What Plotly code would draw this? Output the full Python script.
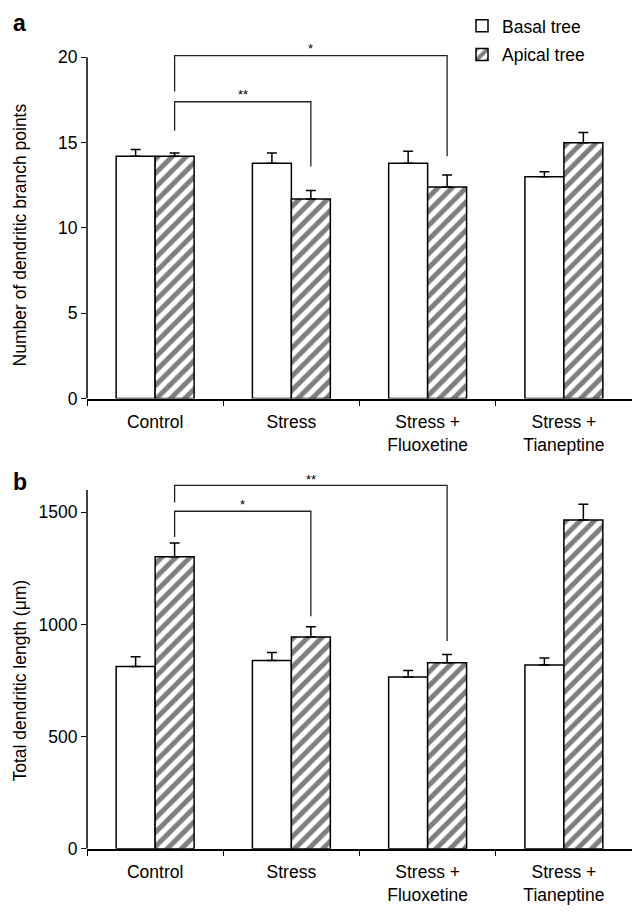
import plotly.graph_objects as go

# ---------------- data ----------------
categories = ["Control", "Stress", "Stress +<br>Fluoxetine", "Stress +<br>Tianeptine"]

branch_basal = [14.2, 13.8, 13.8, 13.0]
branch_basal_err = [0.4, 0.6, 0.7, 0.3]
branch_apical = [14.2, 11.7, 12.4, 15.0]
branch_apical_err = [0.2, 0.5, 0.7, 0.6]

length_basal = [812, 839, 766, 819]
length_basal_err = [44, 36, 29, 31]
length_apical = [1302, 944, 829, 1466]
length_apical_err = [61, 46, 37, 70]

# significance brackets: (from idx, to idx, bracket level, left drop, right drop, label)
sig_a = [(0, 1, 17.4, 15.7, 13.6, "**"), (0, 2, 20.1, 18.0, 14.2, "*")]
sig_b = [(0, 1, 1505, 1390, 1037, "*"), (0, 2, 1620, 1544, 926, "**")]

# ---------------- layout geometry ----------------
W, H = 632, 918
ML = 87
PW = W - ML
FONT = "Liberation Sans, Arial, sans-serif"
FS = 17.5
BAR_W = 0.286
xs = list(range(len(categories)))


def py(p):
    return 1 - p / H


def px(p):
    return (p - ML) / PW


# panel a: value 0 at y=403px, 20 at y=58px ; panel b: 0 at 858px, 1500 at 518px
a_top_val = 20.8
a_scale = (403 - 58) / 20.0
a_dom = [py(403), py(403 - a_top_val * a_scale)]
b_top_val = 1660
b_scale = (858 - 518) / 1500.0
b_dom = [py(858), py(858 - b_top_val * b_scale)]

fig = go.Figure()

pattern = dict(shape="/", size=10, solidity=0.5, fgcolor="black", bgcolor="white", fillmode="overlay")


def add_panel(basal, basal_err, apical, apical_err, xa, ya, show):
    fig.add_trace(go.Bar(
        x=xs, y=basal, name="Basal tree", xaxis=xa, yaxis=ya,
        width=BAR_W, offset=-BAR_W, showlegend=show, legendgroup="b",
        marker=dict(color="white", line=dict(color="black", width=1.5)),
        error_y=dict(type="data", array=basal_err, arrayminus=[0] * len(basal),
                     symmetric=False, color="black", thickness=1.5, width=5),
    ))
    fig.add_trace(go.Bar(
        x=xs, y=apical, name="Apical tree", xaxis=xa, yaxis=ya,
        width=BAR_W, offset=0, showlegend=show, legendgroup="a",
        marker=dict(color="white", line=dict(color="black", width=1.5), pattern=pattern),
        error_y=dict(type="data", array=apical_err, arrayminus=[0] * len(apical),
                     symmetric=False, color="black", thickness=1.5, width=5),
    ))


add_panel(branch_basal, branch_basal_err, branch_apical, branch_apical_err, "x", "y", True)
add_panel(length_basal, length_basal_err, length_apical, length_apical_err, "x2", "y2", False)

shapes = []
annotations = []


def brackets(sigs, xa, ya, text_off):
    for i, j, lvl, ld, rd, lab in sigs:
        x0 = i + BAR_W / 2
        x1 = j + BAR_W / 2
        shapes.append(dict(type="path", xref=xa, yref=ya,
                           path=f"M {x0},{ld} L {x0},{lvl} L {x1},{lvl} L {x1},{rd}",
                           line=dict(color="#222", width=1.3)))
        annotations.append(dict(x=(x0 + x1) / 2, y=lvl + text_off, xref=xa, yref=ya,
                                text=lab, showarrow=False, xanchor="center", yanchor="middle",
                                font=dict(family=FONT, size=13, color="black")))


brackets(sig_a, "x", "y", 0.4)
brackets(sig_b, "x2", "y2", 28)

# manual y-axis lines (stop at top tick)
shapes.append(dict(type="line", xref="x domain", yref="y", x0=0, x1=0, y0=0, y1=20,
                   line=dict(color="black", width=1.5)))
shapes.append(dict(type="line", xref="x2 domain", yref="y2", x0=0, x1=0, y0=0, y1=1600,
                   line=dict(color="black", width=1.5)))

# panel letters and axis titles
annotations += [
    dict(x=px(11), y=py(23), xref="paper", yref="paper", text="<b>a</b>", showarrow=False,
         xanchor="left", yanchor="middle", font=dict(family=FONT, size=23, color="black")),
    dict(x=px(11), y=py(487), xref="paper", yref="paper", text="<b>b</b>", showarrow=False,
         xanchor="left", yanchor="middle", font=dict(family=FONT, size=23, color="black")),
    dict(x=px(20), y=py(238), xref="paper", yref="paper", text="Number of dendritic branch points",
         textangle=-90, showarrow=False, xanchor="center", yanchor="middle",
         font=dict(family=FONT, size=FS, color="black")),
    dict(x=px(20), y=py(688), xref="paper", yref="paper", text="Total dendritic length (μm)",
         textangle=-90, showarrow=False, xanchor="center", yanchor="middle",
         font=dict(family=FONT, size=FS, color="black")),
]

xaxis_common = dict(
    range=[-0.5, 3.5], tickvals=xs, ticktext=categories, ticks="",
    showline=True, linecolor="black", linewidth=1.5, showgrid=False, zeroline=False,
    tickfont=dict(family=FONT, size=FS, color="black"), ticklabelstandoff=7,
    minor=dict(tick0=-0.5, dtick=1, ticks="outside", ticklen=6, tickwidth=1.2,
               tickcolor="black", showgrid=False),
)

yaxis_common = dict(
    ticks="outside", ticklen=5, tickwidth=1.2, tickcolor="black",
    showline=False, showgrid=False, zeroline=False,
    tickfont=dict(family=FONT, size=FS, color="black"),
)

fig.update_layout(
    width=W, height=H,
    margin=dict(l=ML, r=0, t=0, b=0),
    paper_bgcolor="white", plot_bgcolor="white",
    barmode="overlay",
    font=dict(family=FONT, color="black"),
    xaxis=dict(domain=[0, 1], anchor="y", **xaxis_common),
    xaxis2=dict(domain=[0, 1], anchor="y2", **xaxis_common),
    yaxis=dict(domain=a_dom, anchor="x", range=[0, a_top_val], tickvals=[0, 5, 10, 15, 20],
               **yaxis_common),
    yaxis2=dict(domain=b_dom, anchor="x2", range=[0, b_top_val], tickvals=[0, 500, 1000, 1500],
                **yaxis_common),
    legend=dict(x=px(462), y=py(8), xanchor="left", yanchor="top",
                font=dict(family=FONT, size=FS, color="black"),
                bgcolor="rgba(0,0,0,0)", tracegroupgap=3, itemwidth=30),
    shapes=shapes,
    annotations=annotations,
)

fig.write_html("out.html")
